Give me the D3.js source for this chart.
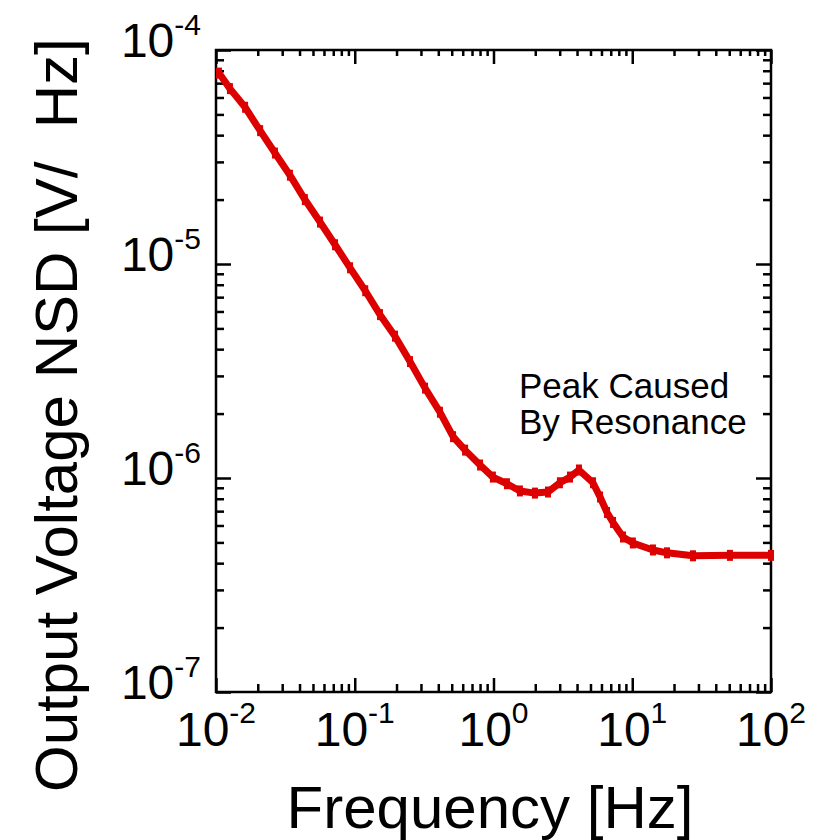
<!DOCTYPE html>
<html>
<head>
<meta charset="utf-8">
<script src="https://cdn.jsdelivr.net/npm/d3@7"></script>
<style>
body { margin: 0; background: #fff; }
text { font-family: "Liberation Sans", Arial, sans-serif; fill: #000; }
</style>
</head>
<body>
<svg id="chart" width="818" height="840"></svg>
<script>
// values (Hz, V/sqrt(Hz))
let freq = [0.0105, 0.0126, 0.0162, 0.0208, 0.0266, 0.0341, 0.0437, 0.0562, 0.0721, 0.0925,
    0.119, 0.152, 0.195, 0.25, 0.321, 0.411, 0.511, 0.624, 0.80, 0.99,
    1.25, 1.55, 1.99, 2.47, 3.01, 3.56, 4.13, 5.21, 5.86, 6.58,
    7.27, 8.58, 10.1, 14.1, 17.8, 27.4, 50.6, 100];
let nsd = [7.8e-5, 6.6e-5, 5.4e-5, 4.2e-5, 3.3e-5, 2.6e-5, 2.0e-5, 1.57e-5, 1.23e-5, 9.6e-6,
    7.5e-6, 5.8e-6, 4.6e-6, 3.5e-6, 2.63e-6, 2.03e-6, 1.56e-6, 1.35e-6, 1.15e-6, 1.01e-6,
    9.4e-7, 8.7e-7, 8.5e-7, 8.6e-7, 9.5e-7, 1.01e-6, 1.09e-6, 9.5e-7, 8.15e-7, 6.9e-7,
    6.2e-7, 5.3e-7, 4.97e-7, 4.61e-7, 4.47e-7, 4.33e-7, 4.35e-7, 4.35e-7];
let xTickExps = [-2, -1, 0, 1, 2];
let yTickExps = [-7, -6, -5, -4];
let annotation = ["Peak Caused", "By Resonance"];

let svg = d3.select("#chart");
let pLeft = 216, pRight = 771, pTop = 50, pBottom = 692;
let red = "#dd0000";

let x = d3.scaleLog().domain([1e-2, 1e2]).range([pLeft, pRight]);
let y = d3.scaleLog().domain([1e-7, 1e-4]).range([pBottom, pTop]);

let data = freq.map((f, i) => ({ f: f, v: nsd[i] }));

let xMajor = xTickExps.map((e) => Math.pow(10, e));
let yMajor = yTickExps.map((e) => Math.pow(10, e));
let isMajor = (v) => Math.abs(Math.log10(v) - Math.round(Math.log10(v))) < 1e-6;
let xMinor = x.ticks().filter((v) => !isMajor(v));
let yMinor = y.ticks().filter((v) => !isMajor(v));

function styleAxis(g) {
    g.select(".domain").remove();
    g.selectAll(".tick line").attr("stroke", "#000").attr("stroke-width", 2.5);
    g.selectAll(".tick text").remove();
}

// inward ticks on all four sides
svg.append("g").attr("transform", "translate(0," + pBottom + ")")
    .call(d3.axisBottom(x).tickValues(xMajor).tickSize(-14)).call(styleAxis);
svg.append("g").attr("transform", "translate(0," + pBottom + ")")
    .call(d3.axisBottom(x).tickValues(xMinor).tickSize(-8)).call(styleAxis);
svg.append("g").attr("transform", "translate(0," + pTop + ")")
    .call(d3.axisTop(x).tickValues(xMajor).tickSize(-14)).call(styleAxis);
svg.append("g").attr("transform", "translate(0," + pTop + ")")
    .call(d3.axisTop(x).tickValues(xMinor).tickSize(-6)).call(styleAxis);
svg.append("g").attr("transform", "translate(" + pLeft + ",0)")
    .call(d3.axisLeft(y).tickValues(yMajor).tickSize(-15)).call(styleAxis);
svg.append("g").attr("transform", "translate(" + pLeft + ",0)")
    .call(d3.axisLeft(y).tickValues(yMinor).tickSize(-8)).call(styleAxis);
svg.append("g").attr("transform", "translate(" + pRight + ",0)")
    .call(d3.axisRight(y).tickValues(yMajor).tickSize(-15)).call(styleAxis);
svg.append("g").attr("transform", "translate(" + pRight + ",0)")
    .call(d3.axisRight(y).tickValues(yMinor).tickSize(-8)).call(styleAxis);

// frame
svg.append("rect")
    .attr("x", pLeft).attr("y", pTop)
    .attr("width", pRight - pLeft).attr("height", pBottom - pTop)
    .attr("fill", "none").attr("stroke", "#000").attr("stroke-width", 2.5);

// tick labels 10^n
xTickExps.forEach(function (e) {
    let t = svg.append("text")
        .attr("x", x(Math.pow(10, e)))
        .attr("y", pBottom + 54)
        .attr("text-anchor", "middle")
        .attr("font-size", 48);
    t.append("tspan").text("10");
    t.append("tspan").attr("dy", -23).attr("font-size", 30).text(e);
});

yTickExps.forEach(function (e) {
    let t = svg.append("text")
        .attr("x", 201)
        .attr("y", y(Math.pow(10, e)) + 7)
        .attr("text-anchor", "end")
        .attr("font-size", 48);
    t.append("tspan").text("10");
    t.append("tspan").attr("dy", -22).attr("font-size", 30).text(e);
});

// axis titles
svg.append("text")
    .attr("x", 490)
    .attr("y", 828)
    .attr("text-anchor", "middle")
    .attr("font-size", 60)
    .text("Frequency [Hz]");

svg.append("text")
    .attr("transform", "translate(77,792) rotate(-90)")
    .attr("text-anchor", "start")
    .attr("font-size", 60)
    .text("Output Voltage NSD [V/\u00a0\u00a0Hz]");

// data
let line = d3.line().x((d) => x(d.f)).y((d) => y(d.v));

svg.append("path")
    .attr("d", line(data))
    .attr("fill", "none")
    .attr("stroke", red)
    .attr("stroke-width", 7)
    .attr("stroke-linejoin", "round");

svg.selectAll(".mark")
    .data(data)
    .enter()
    .append("rect")
    .attr("class", "mark")
    .attr("x", (d) => x(d.f) - 3)
    .attr("y", (d) => y(d.v) - 5.5)
    .attr("width", 6)
    .attr("height", 11)
    .attr("fill", red);

// annotation
annotation.forEach(function (s, i) {
    svg.append("text")
        .attr("x", 519)
        .attr("y", 398 + i * 36)
        .attr("font-size", 35)
        .text(s);
});
</script>
</body>
</html>
